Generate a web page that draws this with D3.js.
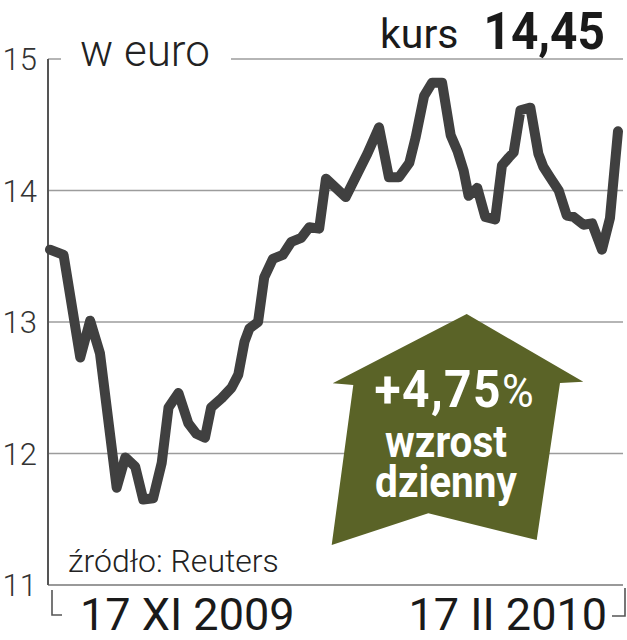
<!DOCTYPE html>
<html>
<head>
<meta charset="utf-8">
<script src="https://cdn.jsdelivr.net/npm/d3@7"></script>
<style>
  body { margin: 0; background: #fff; }
  svg { display: block; }
  text { font-family: Roboto, "Open Sans", sans-serif; }
</style>
</head>
<body>
<div id="chart"></div>
<script>
// day offsets from 17 XI 2009 (17 II 2010 = 92) and closing price in euro
const days = [0, 2.2, 4.9, 6.5, 8.1, 10.8, 12.2, 13.8, 15.1, 16.7, 18.1, 19.2, 20.8, 22.4, 23.7, 25.1,
	26.1, 27.8, 29.4, 30.5, 31.5, 32.3, 33.7, 34.7, 36.1, 37.7, 39.1, 40.7, 42.0, 43.6, 44.7, 46.3,
	47.9, 49.8, 51.4, 53.3, 54.9, 56.5, 58.2, 59.2, 60.6, 61.9, 63.5, 64.9, 66.0, 67.0, 67.8, 69.2,
	70.5, 72.1, 73.2, 74.3, 75.1, 76.2, 77.8, 79.1, 79.9, 81.0, 82.4, 83.7, 84.8, 86.4, 87.8, 89.4,
	90.7, 92];
const prices = [13.55, 13.51, 12.73, 13.01, 12.76, 11.74, 11.97, 11.90, 11.65, 11.66, 11.93, 12.35, 12.46, 12.23, 12.15, 12.12,
	12.35, 12.42, 12.50, 12.60, 12.85, 12.95, 13.00, 13.34, 13.48, 13.51, 13.61, 13.64, 13.72, 13.71, 14.09, 14.02,
	13.95, 14.13, 14.28, 14.48, 14.10, 14.10, 14.21, 14.40, 14.72, 14.82, 14.82, 14.42, 14.30, 14.15, 13.96, 14.02,
	13.80, 13.78, 14.19, 14.25, 14.29, 14.61, 14.63, 14.28, 14.18, 14.10, 14.00, 13.81, 13.80, 13.74, 13.75, 13.55,
	13.79, 14.45];
const yTicks = [11, 12, 13, 14, 15];
const dateLabels = ["17 XI 2009", "17 II 2010"];
const lastPrice = "14,45";
const change = "+4,75";
const changeWords = ["wzrost", "dzienny"];

const width = 627, height = 640;

const svg = d3.select("#chart").append("svg")
	.attr("width", width)
	.attr("height", height);

const x = d3.scaleLinear().domain([0, 92]).range([50, 618]);
const y = d3.scaleLinear().domain([11, 15]).range([585, 59]);

// gridlines
svg.append("g")
	.selectAll("line")
	.data(yTicks)
	.enter().append("line")
	.attr("x1", 48)
	.attr("x2", 623)
	.attr("y1", d => y(d))
	.attr("y2", d => y(d))
	.attr("stroke", d => d == 11 ? "#777" : "#9c9c9c")
	.attr("stroke-width", 1.6);

// gap in the top gridline for the unit
svg.append("rect")
	.attr("x", 61).attr("y", y(15) - 4)
	.attr("width", 170).attr("height", 8)
	.attr("fill", "#fff");

svg.append("text")
	.attr("x", 80).attr("y", 66)
	.attr("font-size", 44)
	.attr("font-weight", 300)
	.attr("fill", "#222")
	.text("w euro");

// left axis
svg.append("line")
	.attr("x1", 48).attr("x2", 48)
	.attr("y1", y(15)).attr("y2", y(11))
	.attr("stroke", "#555")
	.attr("stroke-width", 2);

svg.append("g")
	.selectAll("text")
	.data(yTicks)
	.enter().append("text")
	.attr("x", 37)
	.attr("y", d => y(d) + 11)
	.attr("text-anchor", "end")
	.attr("font-size", 31)
	.attr("font-weight", 300)
	.attr("fill", "#333")
	.text(d => d);

// date brackets
svg.append("path")
	.attr("d", "M52,590V615H62")
	.attr("fill", "none").attr("stroke", "#555").attr("stroke-width", 1.6);
svg.append("path")
	.attr("d", "M625,588V616H612")
	.attr("fill", "none").attr("stroke", "#555").attr("stroke-width", 1.6);

svg.append("text")
	.attr("x", 80).attr("y", 630)
	.attr("font-size", 45)
	.attr("fill", "#1a1a1a")
	.text(dateLabels[0]);
svg.append("text")
	.attr("x", 607).attr("y", 630)
	.attr("text-anchor", "end")
	.attr("font-size", 45)
	.attr("fill", "#1a1a1a")
	.text(dateLabels[1]);

svg.append("text")
	.attr("x", 68).attr("y", 572)
	.attr("font-size", 32)
	.attr("font-weight", 300)
	.attr("fill", "#222")
	.text("źródło: Reuters");

// price line
const line = d3.line()
	.x((d, i) => x(days[i]))
	.y(d => y(d));

svg.append("path")
	.datum(prices)
	.attr("d", line)
	.attr("fill", "none")
	.attr("stroke", "#404040")
	.attr("stroke-width", 10)
	.attr("stroke-linejoin", "round")
	.attr("stroke-linecap", "round");

// header
svg.append("text")
	.attr("x", 380).attr("y", 48)
	.attr("font-size", 41)
	.attr("fill", "#1a1a1a")
	.text("kurs");
svg.append("text")
	.attr("transform", "translate(605,49) scale(0.92,1)")
	.attr("text-anchor", "end")
	.attr("font-size", 52)
	.attr("font-weight", 700)
	.attr("fill", "#1a1a1a")
	.text(lastPrice);

// up arrow
svg.append("path")
	.attr("d", "M466.7,314L583.3,381.7L560,383L536.7,540L428.3,513.3L331.7,545L353.3,385L332.7,383.3Z")
	.attr("fill", "#5a6327");

const lab = svg.append("text")
	.attr("transform", "translate(454,407) scale(0.94,1)")
	.attr("text-anchor", "middle")
	.attr("fill", "#fff");
lab.append("tspan")
	.attr("font-size", 51)
	.attr("font-weight", 700)
	.attr("letter-spacing", 1.5)
	.text(change);
lab.append("tspan")
	.attr("font-size", 46)
	.attr("font-weight", 400)
	.text("%");

// two-line caption kept in one text element
const words = svg.append("text")
	.attr("transform", "translate(446,457) scale(0.9,1)")
	.attr("text-anchor", "middle")
	.attr("font-size", 45)
	.attr("font-weight", 700)
	.attr("fill", "#fff");
words.selectAll("tspan")
	.data(changeWords)
	.enter().append("tspan")
	.attr("x", 0)
	.attr("y", (d, i) => i * 40)
	.text(d => d);
</script>
</body>
</html>
